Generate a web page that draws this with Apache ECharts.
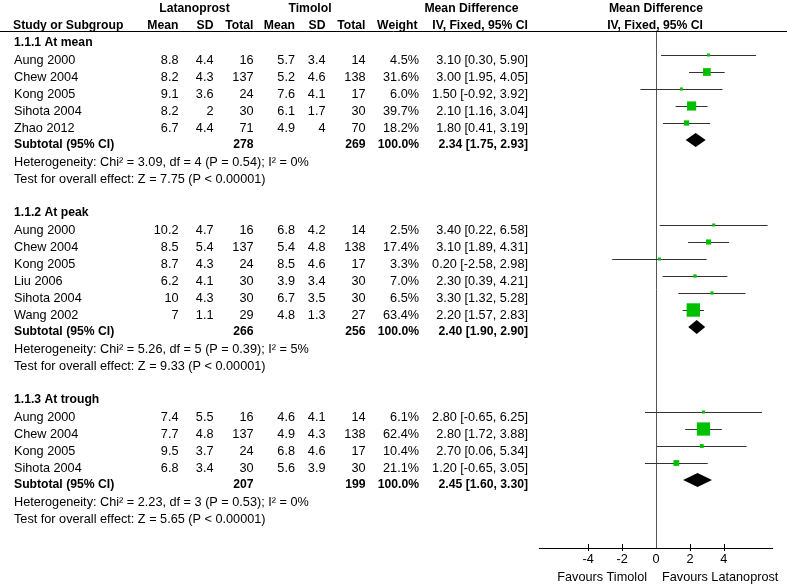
<!DOCTYPE html>
<html>
<head>
<meta charset="utf-8">
<script src="https://cdn.jsdelivr.net/npm/echarts@6/dist/echarts.min.js"></script>
<style>html,body{margin:0;padding:0;background:#fff}#c{width:787px;height:586px}</style>
</head>
<body>
<div id="c"></div>
<script>
// ---------------- DATA ----------------
const subgroupNames = ['1.1.1 At mean', '1.1.2 At peak', '1.1.3 At trough'];
const studyNames = ['Aung 2000','Chew 2004','Kong 2005','Sihota 2004','Zhao 2012',
                    'Aung 2000','Chew 2004','Kong 2005','Liu 2006','Sihota 2004','Wang 2002',
                    'Aung 2000','Chew 2004','Kong 2005','Sihota 2004'];
const studyGroup = [0,0,0,0,0, 1,1,1,1,1,1, 2,2,2,2];
const latMean = [8.8,8.2,9.1,8.2,6.7, 10.2,8.5,8.7,6.2,10,7, 7.4,7.7,9.5,6.8];
const latSD   = [4.4,4.3,3.6,2,4.4, 4.7,5.4,4.3,4.1,4.3,1.1, 5.5,4.8,3.7,3.4];
const latN    = [16,137,24,30,71, 16,137,24,30,30,29, 16,137,24,30];
const timMean = [5.7,5.2,7.6,6.1,4.9, 6.8,5.4,8.5,3.9,6.7,4.8, 4.6,4.9,6.8,5.6];
const timSD   = [3.4,4.6,4.1,1.7,4, 4.2,4.8,4.6,3.4,3.5,1.3, 4.1,4.3,4.6,3.9];
const timN    = [14,138,17,30,70, 14,138,17,30,30,27, 14,138,17,30];
const weight  = [4.5,31.6,6.0,39.7,18.2, 2.5,17.4,3.3,7.0,6.5,63.4, 6.1,62.4,10.4,21.1];
const md      = [3.10,3.00,1.50,2.10,1.80, 3.40,3.10,0.20,2.30,3.30,2.20, 2.80,2.80,2.70,1.20];
const ciLow   = [0.30,1.95,-0.92,1.16,0.41, 0.22,1.89,-2.58,0.39,1.32,1.57, -0.65,1.72,0.06,-0.65];
const ciHigh  = [5.90,4.05,3.92,3.04,3.19, 6.58,4.31,2.98,4.21,5.28,2.83, 6.25,3.88,5.34,3.05];

const subLatN = [278, 266, 207];
const subTimN = [269, 256, 199];
const subWeight = [100.0, 100.0, 100.0];
const subMD   = [2.34, 2.40, 2.45];
const subLow  = [1.75, 1.90, 1.60];
const subHigh = [2.93, 2.90, 3.30];
const heterogeneity = [
  'Heterogeneity: Chi\u00b2 = 3.09, df = 4 (P = 0.54); I\u00b2 = 0%',
  'Heterogeneity: Chi\u00b2 = 5.26, df = 5 (P = 0.39); I\u00b2 = 5%',
  'Heterogeneity: Chi\u00b2 = 2.23, df = 3 (P = 0.53); I\u00b2 = 0%'
];
const overallEffect = [
  'Test for overall effect: Z = 7.75 (P < 0.00001)',
  'Test for overall effect: Z = 9.33 (P < 0.00001)',
  'Test for overall effect: Z = 5.65 (P < 0.00001)'
];
const groupHeaders = ['Latanoprost', 'Timolol', 'Mean Difference', 'Mean Difference'];
const columnHeaders = ['Study or Subgroup','Mean','SD','Total','Mean','SD','Total','Weight','IV, Fixed, 95% CI','IV, Fixed, 95% CI'];
const xTickLabels = [-4, -2, 0, 2, 4];
const favours = ['Favours Timolol', 'Favours Latanoprost'];

// ---------------- LAYOUT ----------------
const FAMILY = '"Liberation Sans", Arial, sans-serif';
const FONT = '12.7px ' + FAMILY;
const BFONT = 'bold 12.2px ' + FAMILY;
const COL = {name: 14, latMean: 178.5, latSD: 213.5, latN: 253.5, timMean: 295, timSD: 325.5,
             timN: 365.5, weight: 419, md: 528};

const textItems = [];
function T(x, row, text, align, bold) { textItems.push({x, row, text: String(text), align, bold: !!bold}); }

// headers
T(194.5, 0, groupHeaders[0], 'center', true);
T(310, 0, groupHeaders[1], 'center', true);
T(471.5, 0, groupHeaders[2], 'center', true);
T(656, 0, groupHeaders[3], 'center', true);
T(13, 1, columnHeaders[0], 'left', true);
T(COL.latMean, 1, columnHeaders[1], 'right', true);
T(COL.latSD, 1, columnHeaders[2], 'right', true);
T(COL.latN, 1, columnHeaders[3], 'right', true);
T(COL.timMean, 1, columnHeaders[4], 'right', true);
T(COL.timSD, 1, columnHeaders[5], 'right', true);
T(COL.timN, 1, columnHeaders[6], 'right', true);
T(417.5, 1, columnHeaders[7], 'right', true);
T(COL.md, 1, columnHeaders[8], 'right', true);
T(655, 1, columnHeaders[9], 'center', true);

const fmtCI = (m, l, h) => m.toFixed(2) + ' [' + l.toFixed(2) + ', ' + h.toFixed(2) + ']';

const studyRows = [];
const subRows = [];
let row = 2;
for (let g = 0; g < subgroupNames.length; g++) {
  T(COL.name, row, subgroupNames[g], 'left', true);
  row++;
  for (let i = 0; i < studyNames.length; i++) {
    if (studyGroup[i] !== g) continue;
    studyRows[i] = row;
    T(COL.name, row, studyNames[i], 'left');
    T(COL.latMean, row, latMean[i], 'right');
    T(COL.latSD, row, latSD[i], 'right');
    T(COL.latN, row, latN[i], 'right');
    T(COL.timMean, row, timMean[i], 'right');
    T(COL.timSD, row, timSD[i], 'right');
    T(COL.timN, row, timN[i], 'right');
    T(COL.weight, row, weight[i].toFixed(1) + '%', 'right');
    T(COL.md, row, fmtCI(md[i], ciLow[i], ciHigh[i]), 'right');
    row++;
  }
  subRows[g] = row;
  T(COL.name, row, 'Subtotal (95% CI)', 'left', true);
  T(COL.latN, row, subLatN[g], 'right', true);
  T(COL.timN, row, subTimN[g], 'right', true);
  T(COL.weight, row, subWeight[g].toFixed(1) + '%', 'right', true);
  T(COL.md, row, fmtCI(subMD[g], subLow[g], subHigh[g]), 'right', true);
  row++;
  T(COL.name, row, heterogeneity[g], 'left'); row++;
  T(COL.name, row, overallEffect[g], 'left'); row++;
  row++; // blank line
}

const studyData = studyNames.map((_, i) => [ciLow[i], ciHigh[i], md[i], studyRows[i], weight[i]]);
const diamondData = subMD.map((m, g) => [subLow[g], subHigh[g], m, subRows[g]]);

// ---------------- CHART ----------------
const chart = echarts.init(document.getElementById('c'), null, {renderer: 'canvas'});
const XR = 6.88;
const tickVals = xTickLabels.filter(v => v !== 0);

const option = {
  animation: false,
  backgroundColor: '#fff',
  grid: [
    {left: 0, top: 0, width: 787, height: 586},
    {left: 539.3, top: 31, width: 233.4, height: 517}
  ],
  xAxis: [
    {gridIndex: 0, type: 'value', min: 0, max: 787, show: false},
    {gridIndex: 1, type: 'value', min: -XR, max: XR, position: 'bottom',
     splitLine: {show: false},
     axisLine: {show: true, onZero: false, lineStyle: {color: '#000', width: 1}},
     axisTick: {show: true, length: 3, customValues: tickVals, lineStyle: {color: '#000'}},
     axisLabel: {show: true, customValues: xTickLabels, margin: 5, color: '#000',
                 fontSize: 12.7, fontFamily: FAMILY}},
    {gridIndex: 1, type: 'value', min: -XR, max: XR, position: 'bottom',
     splitLine: {show: false},
     axisLine: {show: false, onZero: false},
     axisTick: {show: true, inside: true, length: 4, customValues: tickVals, lineStyle: {color: '#000'}},
     axisLabel: {show: false}}
  ],
  yAxis: [
    {gridIndex: 0, type: 'value', inverse: true, min: -9 / 17, max: 577 / 17, show: false},
    {gridIndex: 1, type: 'value', inverse: true, min: 27 / 17, max: 32,
     splitLine: {show: false},
     axisLine: {show: true, onZero: true, onZeroAxisIndex: 1, lineStyle: {color: '#555', width: 1}},
     axisTick: {show: false}, axisLabel: {show: false}}
  ],
  graphic: [
    {type: 'line', shape: {x1: 0, y1: 31.5, x2: 787, y2: 31.5}, style: {stroke: '#000', lineWidth: 1}, z: 10}
  ],
  series: [
    {
      type: 'custom', xAxisIndex: 0, yAxisIndex: 0,
      data: textItems.map(t => [t.x, t.row]),
      renderItem: function (params, api) {
        const t = textItems[params.dataIndex];
        const p = api.coord([api.value(0), api.value(1)]);
        return {type: 'text', x: p[0], y: p[1],
          style: {text: t.text, fill: '#000', font: t.bold ? BFONT : FONT,
                  align: t.align, verticalAlign: 'middle'}};
      }
    },
    {
      type: 'custom', xAxisIndex: 1, yAxisIndex: 1,
      data: studyData,
      renderItem: function (params, api) {
        const r = api.value(3);
        const lo = api.coord([api.value(0), r]);
        const hi = api.coord([api.value(1), r]);
        const c = api.coord([api.value(2), r]);
        const s = Math.max(3, 2 + 0.18 * api.value(4));
        const y = Math.round(lo[1]) + 0.5;
        return {type: 'group', children: [
          {type: 'line', shape: {x1: lo[0], y1: y, x2: hi[0], y2: y}, style: {stroke: '#333', lineWidth: 1}},
          {type: 'rect', shape: {x: c[0] - s / 2, y: c[1] - s / 2, width: s, height: s}, style: {fill: '#00c000'}}
        ]};
      }
    },
    {
      type: 'custom', xAxisIndex: 1, yAxisIndex: 1,
      data: diamondData,
      renderItem: function (params, api) {
        const r = api.value(3);
        const lo = api.coord([api.value(0), r]);
        const hi = api.coord([api.value(1), r]);
        const c = api.coord([api.value(2), r]);
        const h = 7;
        return {type: 'polygon', shape: {points: [[lo[0], lo[1]], [c[0], c[1] - h], [hi[0], hi[1]], [c[0], c[1] + h]]},
          style: {fill: '#000'}};
      }
    },
    {
      type: 'custom', xAxisIndex: 1, yAxisIndex: 1,
      data: [[0, 32]],
      renderItem: function (params, api) {
        const p = api.coord([api.value(0), api.value(1)]);
        return {type: 'group', children: [
          {type: 'text', x: p[0] - 9, y: p[1] + 29, style: {text: favours[0], fill: '#000', font: FONT, align: 'right', verticalAlign: 'middle'}},
          {type: 'text', x: p[0] + 6, y: p[1] + 29, style: {text: favours[1], fill: '#000', font: FONT, align: 'left', verticalAlign: 'middle'}}
        ]};
      }
    }
  ]
};
chart.setOption(option);
</script>
</body>
</html>
